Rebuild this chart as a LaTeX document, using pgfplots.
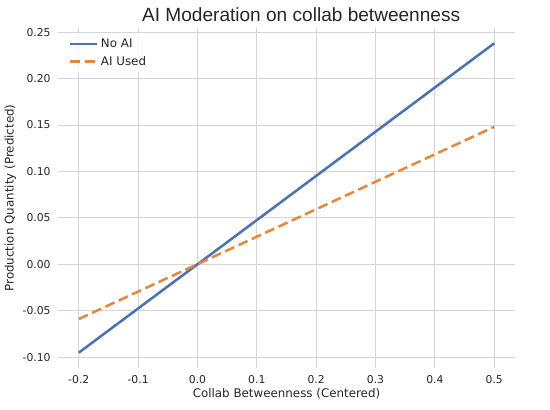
\documentclass[border=0pt]{standalone}
\usepackage{fontspec}
\setmainfont{DejaVu Sans}
\newfontfamily\titlefont{Liberation Sans}
\usepackage{pgfplots}
\pgfplotsset{compat=1.18}
\definecolor{sblue}{HTML}{4C72B0}
\definecolor{sorange}{HTML}{E5873C}
\definecolor{gridc}{HTML}{D5D5D5}
\definecolor{txt}{HTML}{262626}
\begin{document}
\begin{tikzpicture}
\useasboundingbox (-43.5pt,-31.5pt) rectangle (369pt,276pt);
\begin{axis}[
  at={(0,0)}, anchor=south west,
  scale only axis, width=342.75pt, height=255pt,
  xmin=-0.235, xmax=0.535, ymin=-0.1117, ymax=0.2545,
  xtick={-0.2,-0.1,0,0.1,0.2,0.3,0.4,0.5},
  ytick={-0.10,-0.05,0,0.05,0.10,0.15,0.20,0.25},
  xticklabels={-0.2,-0.1,0.0,0.1,0.2,0.3,0.4,0.5},
  yticklabels={-0.10,-0.05,0.00,0.05,0.10,0.15,0.20,0.25},
  /pgf/number format/assume math mode=true,
  tick label style={font=\fontsize{8.1pt}{10pt}\selectfont, text=txt},
  xticklabel style={yshift=-2pt},
  yticklabel style={xshift=-2pt},
  major tick length=0pt,
  grid=major, grid style={gridc, line width=0.75pt},
  axis line style={draw=none},
  xlabel={Collab Betweenness (Centered)},
  ylabel={Production Quantity (Predicted)},
  label style={font=\fontsize{8.9pt}{10pt}\selectfont, text=txt},
  xlabel style={yshift=3pt},
  ylabel style={yshift=-2pt},
  title={AI Moderation on collab betweenness},
  title style={font=\titlefont\fontsize{14.3pt}{16pt}\selectfont, text=txt, yshift=-5pt, xshift=11pt},
  legend style={at={(0.015,0.985)}, anchor=north west, draw=none, fill=white, fill opacity=0.8, text opacity=1,
    font=\fontsize{8.9pt}{10pt}\selectfont, text=txt, row sep=1pt},
  legend cell align=left,
  legend image code/.code={\draw[#1] (0pt,0pt) -- (20pt,0pt);},
]
\addplot[sblue, line width=1.9pt] coordinates {(-0.2,-0.0952) (0.5,0.2380)};
\addlegendentry{No AI}
\addplot[sorange, line width=1.9pt, dash pattern=on 7.5pt off 3.5pt] coordinates {(-0.2,-0.0590) (0.5,0.1480)};
\addlegendentry{AI Used}
\end{axis}
\end{tikzpicture}
\end{document}
